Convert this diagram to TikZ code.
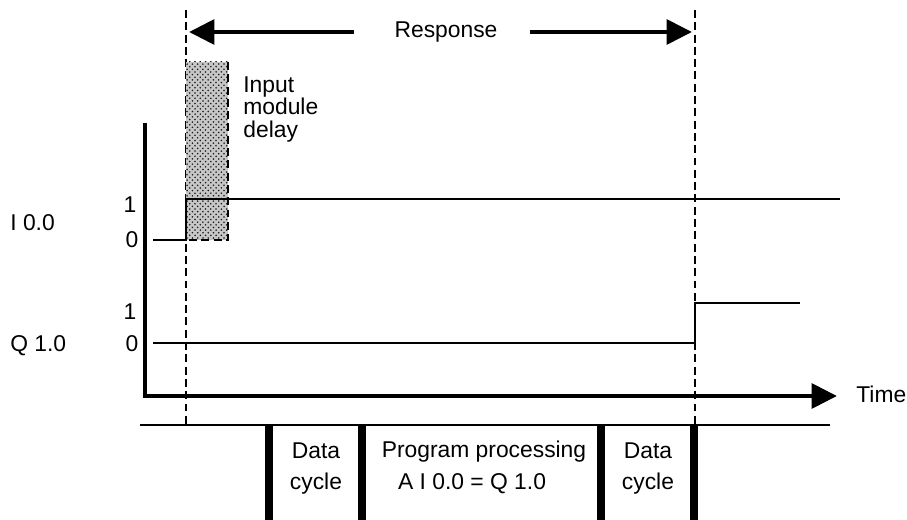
\documentclass[tikz,border=0pt]{standalone}
\usepackage{fontspec}
\setmainfont{Liberation Sans}
\usetikzlibrary{arrows.meta,positioning,patterns}

\begin{document}
\begin{tikzpicture}[x=0.02cm, y=-0.02cm,
  lbl/.style={font=\fontsize{13}{13}\selectfont, inner sep=0pt},
  btxt/.style={font=\fontsize{13}{18}\selectfont, inner sep=0pt, align=center},
  guide/.style={line width=0.8pt, dash pattern=on 4.5pt off 2.5pt},
  sig/.style={line width=0.8pt},
  bar/.style={line width=4pt},
  tarr/.style={line width=2.7pt, miter limit=4, -{Triangle[length=14.5pt,width=14pt]}}
]
\useasboundingbox (0,0) rectangle (907,520);

% Guide lines
\coordinate (gl1) at (186,10);
\coordinate (gl2) at (186,425);
\coordinate (gr1) at (695,10);
\coordinate (gr2) at (695,425);
\draw[guide] (gl1) -- (gl2);
\draw[guide] (gr1) -- (gr2);

% Response arrows
\node[lbl] (resp) at (446,32) {Response};
\coordinate (la) at (189,32);
\coordinate (rb) at (692,32);
\draw[tarr] (resp.west) ++(-40,0) -- (la);
\draw[tarr] (resp.east) ++(32,0) -- (rb);

% Input module delay
\coordinate (d1) at (186,62);
\coordinate (d2) at (228,240);
\fill[black!22] (d1) rectangle (d2);
\fill[pattern=crosshatch dots, pattern color=black!90] (d1) rectangle (d2);
\draw[guide] (d1 -| d2) -- (d2) -- (d2 -| d1);
\node[lbl, align=left, anchor=north west] (dly) at (243,76) {Input\\module\\delay};

% Axes
\coordinate (ax0) at (145,123);
\coordinate (axc) at (145,396);
\coordinate (axt) at (837,396);
\draw[tarr] (ax0) -- (axc) -- (axt);
\node[lbl, anchor=west] (time) at (856,394) {Time};

% Signal I 0.0
\node[lbl, anchor=west] (inm) at (10,223) {I 0.0};
\node[lbl] (ione) at (130,205) {1};
\node[lbl] (izero) at (132,240) {0};
\coordinate (i0) at (153,240);
\coordinate (iend) at (840,199);
\draw[sig] (i0) -- (i0 -| gl1) |- (iend);

% Signal Q 1.0
\node[lbl, anchor=west] (qnm) at (10,346) {Q 1.0};
\node[lbl] (qone) at (130,312) {1};
\node[lbl] (qzero) at (132,344) {0};
\coordinate (q0) at (153,343);
\coordinate (qend) at (800,303);
\draw[sig] (q0) -- (q0 -| gr1) |- (qend);

% Cycle bars
\draw[sig] (140,425) -- (830,425);
\foreach \bx in {269,362,601,694}
  \draw[bar] (\bx,425) -- (\bx,520);
\node[btxt, anchor=north] (dc1) at (316,442) {Data\\cycle};
\node[lbl, anchor=base] (pp) at (484,458) {Program processing};
\node[lbl, anchor=base] (ppa) at (472,490) {A I 0.0 = Q 1.0};
\node[btxt, anchor=north] (dc2) at (648,442) {Data\\cycle};
\end{tikzpicture}
\end{document}
